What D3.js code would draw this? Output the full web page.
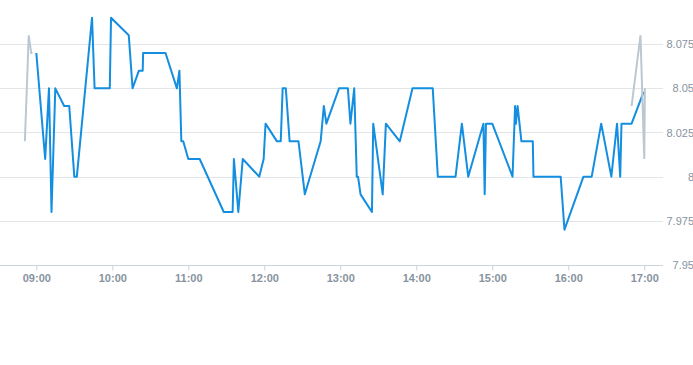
<!DOCTYPE html>
<html><head><meta charset="utf-8">
<script src="https://cdn.jsdelivr.net/npm/d3@7"></script>
<style>
html,body{margin:0;padding:0;background:#fff;overflow:hidden;}
svg{display:block;}
text{font-family:"Liberation Sans",Arial,sans-serif;}
</style></head>
<body><svg id="chart" width="693" height="365"></svg>
<script>
// ---- data ----
const mainTimes = ["09:00:00","09:07:00","09:10:00","09:12:00","09:15:00","09:22:00","09:26:00","09:30:00","09:32:00","09:44:00","09:46:00","09:58:00","09:59:00","10:13:00","10:16:00","10:21:00","10:24:00","10:24:20","10:42:00","10:51:00","10:53:00","10:54:30","10:56:00","11:00:00","11:09:00","11:28:00","11:35:00","11:36:00","11:39:30","11:43:00","11:56:00","11:59:30","12:01:00","12:10:00","12:13:00","12:14:30","12:17:00","12:20:00","12:27:00","12:32:00","12:44:30","12:47:00","12:49:00","12:59:00","13:06:00","13:08:00","13:11:00","13:13:00","13:14:00","13:16:00","13:25:00","13:26:00","13:33:30","13:36:00","13:47:00","13:57:00","14:13:00","14:17:00","14:31:00","14:36:00","14:41:00","14:53:00","14:54:00","14:55:00","15:00:00","15:16:00","15:18:00","15:18:40","15:20:00","15:23:00","15:32:00","15:32:30","15:54:00","15:57:00","16:12:00","16:18:30","16:26:00","16:34:00","16:38:30","16:41:00","16:42:00","16:50:00","16:59:30"];
const mainValues = [8.07,8.01,8.05,7.98,8.05,8.04,8.04,8.00,8.00,8.09,8.05,8.05,8.09,8.08,8.05,8.06,8.06,8.07,8.07,8.05,8.06,8.02,8.02,8.01,8.01,7.98,7.98,8.01,7.98,8.01,8.00,8.01,8.03,8.02,8.02,8.05,8.05,8.02,8.02,7.99,8.02,8.04,8.03,8.05,8.05,8.03,8.05,8.00,8.00,7.99,7.98,8.03,7.99,8.03,8.02,8.05,8.05,8.00,8.00,8.03,8.00,8.03,7.99,8.03,8.03,8.00,8.04,8.03,8.04,8.02,8.02,8.00,8.00,7.97,8.00,8.00,8.03,8.00,8.03,8.00,8.03,8.03,8.048];
const preTimes = ["08:51:00","08:54:00","08:56:00","08:57:00"];
const preValues = [8.02,8.08,8.07,8.07];
const postTimes = ["16:50:00","16:57:00","17:00:00","17:00:30"];
const postValues = [8.04,8.08,8.01,8.05];
const xTickLabels = ["09:00","10:00","11:00","12:00","13:00","14:00","15:00","16:00","17:00"];
const yTickValues = [7.95,7.975,8,8.025,8.05,8.075];
const xDomain = ["08:31:20","17:14:00"];
const yDomain = [7.95,8.1];

// ---- layout ----
const parse = d3.timeParse("%H:%M:%S");
const parseHM = d3.timeParse("%H:%M");
const plotRight = 663, plotBottom = 265;
const svg = d3.select("#chart");
const x = d3.scaleTime().domain(xDomain.map(parse)).range([0, 662]);
const y = d3.scaleLinear().domain(yDomain).range([plotBottom, 0]);

// gridlines
svg.append("g").selectAll("line").data(yTickValues.filter(v=>v!==7.95)).join("line")
  .attr("x1",0).attr("x2",plotRight)
  .attr("y1",d=>Math.round(y(d))+0.5).attr("y2",d=>Math.round(y(d))+0.5)
  .attr("stroke","#e3e6e9").attr("stroke-width",1);

// y axis labels (right)
const yAxis = d3.axisRight(y).tickValues(yTickValues).tickSize(0).tickPadding(0)
  .tickFormat(d=>d3.format("")(+d.toFixed(3)));
const gy = svg.append("g").attr("transform",`translate(694,0)`).call(yAxis);
gy.select(".domain").remove();
gy.selectAll("text").attr("text-anchor","end").attr("fill","#8793a0")
  .attr("font-size","11px").attr("dy","0.32em");

// x axis
const xAxis = d3.axisBottom(x).tickValues(xTickLabels.map(parseHM))
  .tickFormat(d3.timeFormat("%H:%M")).tickSize(5).tickSizeOuter(0).tickPadding(4);
const gx = svg.append("g").attr("transform",`translate(0,${plotBottom}.5)`).call(xAxis);
gx.select(".domain").attr("stroke","#ccd3db").attr("d",`M0,0H${plotRight}`);
gx.selectAll(".tick line").attr("stroke","#ccd3db");
gx.selectAll("text").attr("fill","#8793a0").attr("font-size","11px").attr("font-weight","bold");

const line = d3.line().x(d=>x(d[0])).y(d=>y(d[1]));
const mk = (ts,vs)=>ts.map((t,i)=>[parse(t),vs[i]]);

svg.append("path").datum(mk(mainTimes,mainValues)).attr("d",line)
  .attr("fill","none").attr("stroke","#138ee0").attr("stroke-width",2).attr("stroke-linejoin","round");
svg.append("path").datum(mk(preTimes,preValues)).attr("d",line)
  .attr("fill","none").attr("stroke","#bcc8d1").attr("stroke-width",2);
svg.append("path").datum(mk(postTimes,postValues)).attr("d",line)
  .attr("fill","none").attr("stroke","#bcc8d1").attr("stroke-width",2);
</script></body></html>
